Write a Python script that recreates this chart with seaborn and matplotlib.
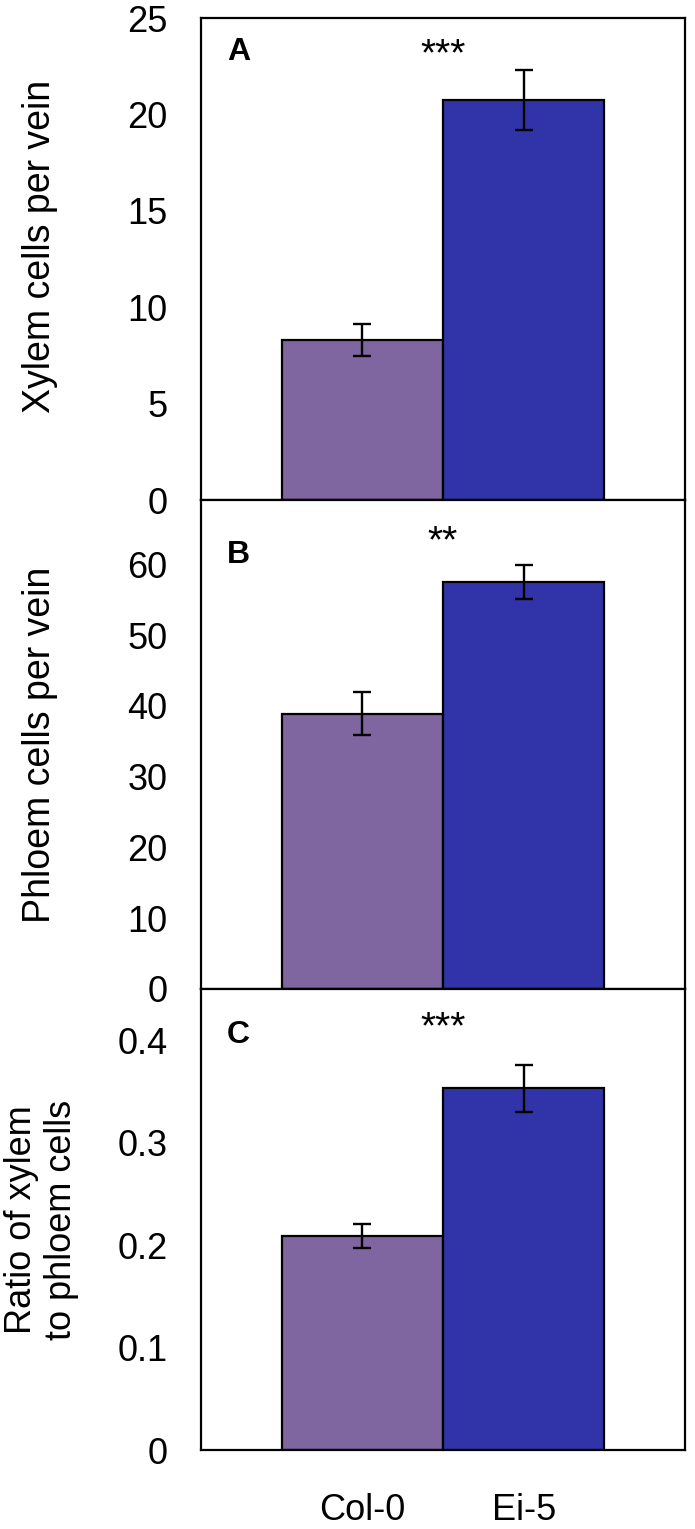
import matplotlib
matplotlib.use("Agg")
import matplotlib.pyplot as plt
import seaborn as sns
import pandas as pd

# ---- data ----
genotypes = ["Col-0", "Ei-5"]
bar_colors = ["#7F66A0", "#3034A8"]

xylem_mean = [8.3, 20.75]
xylem_err = [0.85, 1.55]

phloem_mean = [38.9, 57.5]
phloem_err = [3.0, 2.4]

ratio_mean = [0.209, 0.353]
ratio_err = [0.0115, 0.023]

panel_letters = ["A", "B", "C"]
signif_marks = ["***", "**", "***"]
ylabels = ["Xylem cells per vein", "Phloem cells per vein", "Ratio of xylem\nto phloem cells"]

xylem_ticks = [0, 5, 10, 15, 20, 25]
xylem_ticklabels = ["0", "5", "10", "15", "20", "25"]
phloem_ticks = [0, 10, 20, 30, 40, 50, 60]
phloem_ticklabels = ["0", "10", "20", "30", "40", "50", "60"]
ratio_ticks = [0, 0.1, 0.2, 0.3, 0.4]
ratio_ticklabels = ["0", "0.1", "0.2", "0.3", "0.4"]

ylims = [(0, 25), (0, 69.1), (0, 0.45)]

sns.set_style("white")
plt.rcParams["font.family"] = ["Liberation Sans", "DejaVu Sans"]
plt.rcParams["text.color"] = "black"
plt.rcParams["axes.labelcolor"] = "black"
plt.rcParams["xtick.color"] = "black"
plt.rcParams["ytick.color"] = "black"
plt.rcParams["axes.edgecolor"] = "black"

fig = plt.figure(figsize=(6.95, 15.29), dpi=100)
W, H = 695.0, 1529.0
left = 201 / W
width = (685 - 201) / W
panel_px = [(18, 500), (500, 989), (989, 1450)]

means = [xylem_mean, phloem_mean, ratio_mean]
errs = [xylem_err, phloem_err, ratio_err]
ticks = [xylem_ticks, phloem_ticks, ratio_ticks]
ticklabels = [xylem_ticklabels, phloem_ticklabels, ratio_ticklabels]
label_x = [-0.333, -0.333, -0.3295]
label_y = [0.527, 0.5, 0.5]
label_size = [27, 27, 26]
letter_y = [0.913, 0.872, 0.883]
star_y = [0.9025, 0.8935, 0.892]

for i in range(3):
    top, bot = panel_px[i]
    ax = fig.add_axes([left, 1 - bot / H, width, (bot - top) / H])
    df = pd.DataFrame({"genotype": genotypes, "value": means[i]})
    sns.barplot(data=df, x="genotype", y="value", hue="genotype",
                palette=bar_colors, width=1.0, edgecolor="black",
                linewidth=1.6, errorbar=None, legend=False, ax=ax,
                saturation=1)
    ax.errorbar(range(len(genotypes)), means[i], yerr=errs[i], fmt="none",
                ecolor="black", elinewidth=1.7, capsize=6.5, capthick=1.7)
    ax.set_xlim(-1, 2)
    ax.set_ylim(*ylims[i])
    ax.set_yticks(ticks[i])
    ax.set_yticklabels(ticklabels[i])
    ax.tick_params(axis="y", direction="in", length=8, width=1.6,
                   labelsize=26, pad=24)
    ax.tick_params(axis="x", length=0, labelsize=26, pad=31)
    if i < 2:
        ax.set_xticklabels([])
    ax.set_xlabel("")
    ax.set_ylabel(ylabels[i], fontsize=label_size[i], va="center", ha="center",
                  linespacing=1.15)
    ax.yaxis.set_label_coords(label_x[i], label_y[i])
    for sp in ax.spines.values():
        sp.set_visible(True)
        sp.set_color("black")
        sp.set_linewidth(1.6)
    ax.text(0.054, letter_y[i], panel_letters[i], transform=ax.transAxes,
            fontsize=23, fontweight="bold", ha="left", va="baseline")
    ax.text(0.5, star_y[i], signif_marks[i],
            transform=ax.get_xaxis_transform(), fontsize=28,
            ha="center", va="baseline")

fig.savefig("out.png", dpi=100)
